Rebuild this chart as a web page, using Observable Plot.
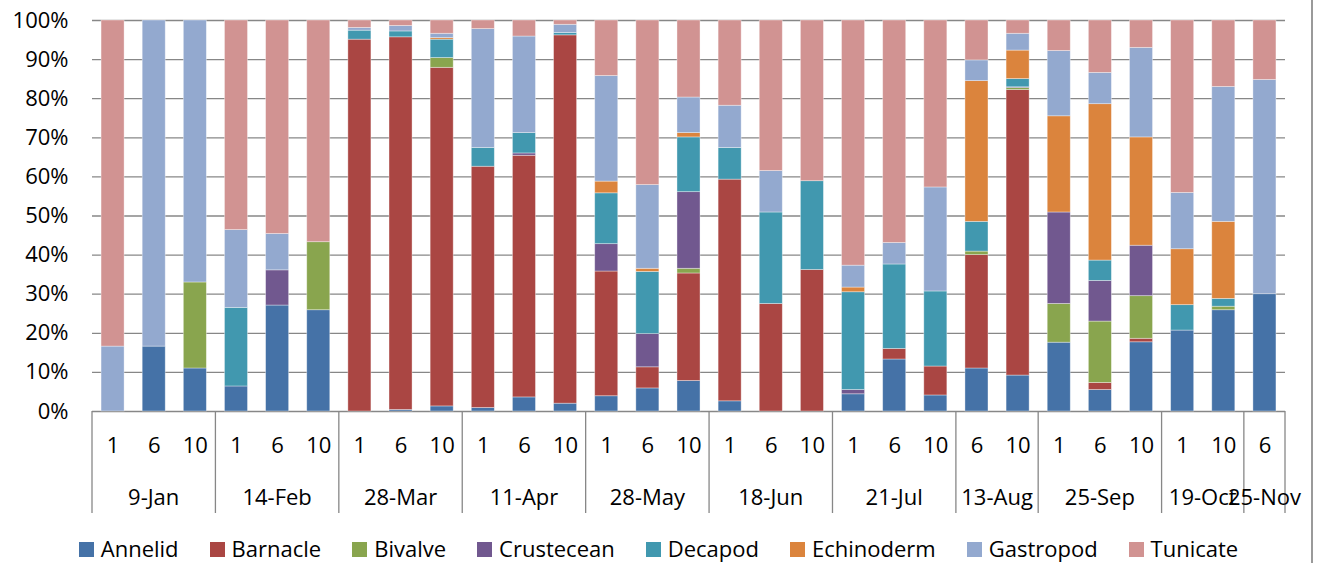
<!DOCTYPE html>
<html><head><meta charset="utf-8">
<script src="https://cdn.jsdelivr.net/npm/d3@7"></script>
<script src="https://cdn.jsdelivr.net/npm/@observablehq/plot@0.6"></script>
<style>
body{margin:0;background:#fff;font-family:"Open Sans",sans-serif;color:#000;}
#wrap{position:relative;width:1317px;height:563px;overflow:hidden;}
#legend{position:absolute;top:533px;left:0;width:1317px;display:flex;justify-content:center;gap:31px;font-size:22px;line-height:30px;white-space:nowrap;}
#legend span.sw{display:inline-block;width:15px;height:15px;margin-right:7px;vertical-align:middle;position:relative;top:-2px;}
#border{position:absolute;left:1311px;top:0;width:2px;height:563px;background:#9a9a9a;}
</style></head>
<body><div id="wrap"><div id="chart"></div><div id="legend"></div><div id="border"></div></div>
<script>
// Categories
const groups = ["9-Jan","9-Jan","9-Jan","14-Feb","14-Feb","14-Feb","28-Mar","28-Mar","28-Mar","11-Apr","11-Apr","11-Apr","28-May","28-May","28-May","18-Jun","18-Jun","18-Jun","21-Jul","21-Jul","21-Jul","13-Aug","13-Aug","25-Sep","25-Sep","25-Sep","19-Oct","19-Oct","25-Nov"];
const sites  = ["1","6","10","1","6","10","1","6","10","1","6","10","1","6","10","1","6","10","1","6","10","6","10","1","6","10","1","10","6"];
const species = ["Annelid","Barnacle","Bivalve","Crustecean","Decapod","Echinoderm","Gastropod","Tunicate"];
const colors  = ["#4572A7","#AA4643","#89A54E","#71588F","#4198AF","#DB843D","#93A9CF","#D19392"];

// Series values (percent of each bar)
const annelid    = [0,16.6,11.0, 6.4,27.1,25.9, 0,0.4,1.3, 0.9,3.6,2.0, 3.9,5.9,7.8, 2.6,0,0, 4.4,13.3,4.1, 11.0,9.2, 17.6,5.5,17.7, 20.7,25.9, 30.0];
const barnacle   = [0,0,0, 0,0,0, 95.1,95.3,86.6, 61.7,61.8,94.2, 31.9,5.4,27.5, 56.7,27.5,36.2, 0,2.7,7.4, 29.0,73.1, 0,1.8,0.9, 0,0, 0];
const bivalve    = [0,0,22.0, 0,0,17.4, 0,0,2.5, 0,0,0, 0,0,1.2, 0,0,0, 0,0,0, 0.9,0.5, 9.9,15.7,10.9, 0,0.9, 0];
const crustecean = [0,0,0, 0,9.0,0, 0,0,0, 0,0.6,0, 7.0,8.5,19.6, 0,0,0, 1.1,0,0, 0,0.2, 23.4,10.4,12.9, 0,0, 0];
const decapod    = [0,0,0, 20.1,0,0, 2.3,1.5,4.7, 4.8,5.2,0.6, 13.0,15.9,14.0, 8.1,23.4,22.7, 25.0,21.6,19.2, 7.6,2.1, 0,5.2,0, 6.5,2.0, 0];
const echinoderm = [0,0,0, 0,0,0, 0,0,0.4, 0,0,0, 3.0,0.8,1.1, 0,0,0, 1.2,0,0, 36.0,7.3, 24.6,40.0,27.7, 14.3,19.7, 0];
const gastropod  = [16.6,83.4,67.0, 19.9,9.3,0, 0.7,1.4,1.1, 30.4,24.7,2.1, 27.0,21.4,9.1, 10.8,10.6,0, 5.6,5.5,26.6, 5.3,4.3, 16.7,8.0,22.9, 14.4,34.5, 54.8];
const tunicate   = [83.4,0,0, 53.6,54.6,56.7, 1.9,1.4,3.4, 2.2,4.1,1.1, 14.2,42.1,19.7, 21.8,38.5,41.1, 62.7,56.9,42.7, 10.2,3.4, 7.8,13.4,7.0, 44.1,17.0, 15.2];
const yTicks = [0,0.1,0.2,0.3,0.4,0.5,0.6,0.7,0.8,0.9,1];

const series = [annelid,barnacle,bivalve,crustecean,decapod,echinoderm,gastropod,tunicate];
const ids = groups.map((g,i) => i);
const data = [];
species.forEach((s,k) => series[k].forEach((v,i) => data.push({id:i, species:s, value:v})));

const W = 1317, H = 530, mL = 92, mR = 32, mT = 20, mB = 119;
const chart = Plot.plot({
  width: W, height: H, marginLeft: mL, marginRight: mR, marginTop: mT, marginBottom: mB,
  style: {fontFamily: "'Open Sans', sans-serif", fontSize: "22px", color: "#000", background: "#fff", overflow: "visible"},
  x: {type: "band", domain: ids, paddingInner: 0.44, paddingOuter: 0.22, round: false, axis: null},
  y: {domain: [0,1], axis: null},
  color: {domain: species, range: colors},
  marks: [
    Plot.gridY(yTicks, {stroke: "#878787", strokeOpacity: 1, strokeWidth: 1.3}),
    Plot.barY(data, {x: "id", y: "value", fill: "species", offset: "normalize", order: species, stroke: "#ffffff", strokeOpacity: 0.45, strokeWidth: 0.8}),
    Plot.axisY(yTicks, {tickSize: 0, tickPadding: 24, tickFormat: d3.format(".0%"), label: null, fontSize: 22}),
    Plot.text(ids, {x: d => d, text: d => sites[d], frameAnchor: "bottom", dy: 41, fontSize: 22, fill: "#000"})
  ]
});
document.getElementById("chart").appendChild(chart);

// Two-level category axis: group dividers and group labels, placed with the x scale
const xs = chart.scale("x");
const svg = d3.select(chart);
const off = xs.step * 0.22;
const bounds = [];
const glabels = [];
ids.forEach(i => {
  if (i === 0 || groups[i] !== groups[i-1]) bounds.push(xs.apply(i) - off);
});
bounds.push(xs.apply(ids[ids.length-1]) + xs.bandwidth + off);
let start = 0;
ids.forEach(i => {
  if (i === ids.length-1 || groups[i+1] !== groups[i]) {
    const a = xs.apply(start) - off, b = xs.apply(i) + xs.bandwidth + off;
    glabels.push({name: groups[i], cx: (a+b)/2});
    start = i+1;
  }
});
const yBase = H - mB;
svg.append("g").selectAll("line").data(bounds).join("line")
  .attr("x1", d => d).attr("x2", d => d).attr("y1", yBase).attr("y2", yBase + 102)
  .attr("stroke", "#878787").attr("stroke-width", 1.3);
svg.append("g").selectAll("text").data(glabels).join("text")
  .attr("x", d => d.cx).attr("y", yBase + 87).attr("dy", "0.32em")
  .attr("text-anchor", "middle").attr("fill", "#000").attr("font-size", 22)
  .text(d => d.name);

// Legend
const lg = d3.select("#legend");
species.forEach((s,k) => {
  const it = lg.append("div");
  it.append("span").attr("class","sw").style("background", colors[k]);
  it.append("span").text(s);
});
</script></body></html>
